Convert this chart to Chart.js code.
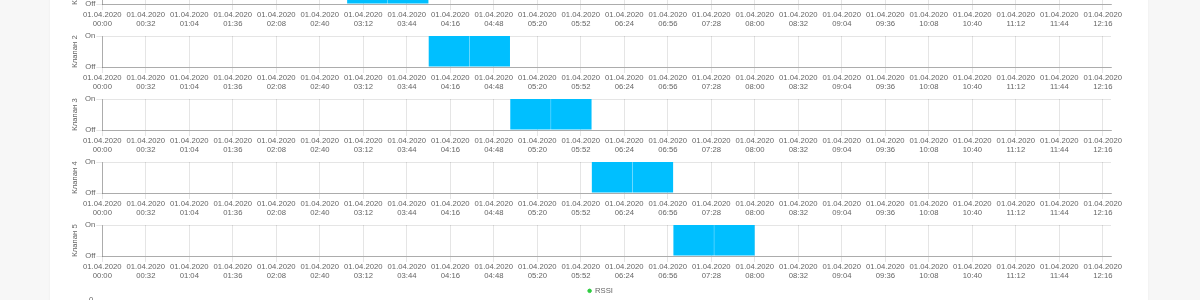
<!DOCTYPE html>
<html>
<head>
<meta charset="utf-8">
<script src="https://cdn.jsdelivr.net/npm/chart.js@4.4.0/dist/chart.umd.min.js"></script>
<style>
  html, body { margin: 0; padding: 0; }
  body {
    width: 1200px;
    height: 300px;
    overflow: hidden;
    background: #f7f7f7;
    position: relative;
  }
  .card {
    position: absolute;
    left: 50px;
    top: -33px;
    width: 1098px;
    height: 500px;
    background: #fff;
    box-shadow: 0 0 2px rgba(0, 0, 0, 0.06);
  }
  .chart-box {
    position: relative;
    margin-left: 16px;
    width: 1074px;
    height: 63px;
  }
  .chart-box.rssi {
    height: 160px;
  }
</style>
</head>
<body>
<div class="card" id="card"></div>

<script>
// Data
const dateLabel = "01.04.2020";

const tickTimes = [
  "00:00", "00:32", "01:04", "01:36", "02:08", "02:40", "03:12", "03:44",
  "04:16", "04:48", "05:20", "05:52", "06:24", "06:56", "07:28", "08:00",
  "08:32", "09:04", "09:36", "10:08", "10:40", "11:12", "11:44", "12:16",
];

// half-hour slots (start time of each slot)
const slotStarts = [
  "00:00", "00:30", "01:00", "01:30", "02:00", "02:30", "03:00", "03:30",
  "04:00", "04:30", "05:00", "05:30", "06:00", "06:30", "07:00", "07:30",
  "08:00", "08:30", "09:00", "09:30", "10:00", "10:30", "11:00", "11:30",
  "12:00",
];

const valveNames = ["Клапан 1", "Клапан 2", "Клапан 3", "Клапан 4", "Клапан 5"];

// 1 = On, 0 = Off
const valve1 = [0,0,0,0,0,0,1,1,0,0,0,0,0,0,0,0,0,0,0,0,0,0,0,0,0];
const valve2 = [0,0,0,0,0,0,0,0,1,1,0,0,0,0,0,0,0,0,0,0,0,0,0,0,0];
const valve3 = [0,0,0,0,0,0,0,0,0,0,1,1,0,0,0,0,0,0,0,0,0,0,0,0,0];
const valve4 = [0,0,0,0,0,0,0,0,0,0,0,0,1,1,0,0,0,0,0,0,0,0,0,0,0];
const valve5 = [0,0,0,0,0,0,0,0,0,0,0,0,0,0,1,1,0,0,0,0,0,0,0,0,0];
const valveStates = [valve1, valve2, valve3, valve4, valve5];

const rssiValues = [];

const slotLength = 30; // minutes
const axisEnd = 742;   // minutes, right edge of the time axis

// Helpers
function toMinutes(hhmm) {
  const parts = hhmm.split(":");
  return parseInt(parts[0], 10) * 60 + parseInt(parts[1], 10);
}

const tickMinutes = tickTimes.map(toMinutes);
const textColor = "#666";
const fontFamily = "'Helvetica Neue', Helvetica, Arial, 'Liberation Sans', sans-serif";
const fontSize = 7.7;

Chart.defaults.font.family = fontFamily;
Chart.defaults.font.size = fontSize;
Chart.defaults.color = textColor;
Chart.defaults.animation = false;

const card = document.getElementById("card");

function makeBox(cls) {
  const box = document.createElement("div");
  box.className = "chart-box" + (cls ? " " + cls : "");
  const canvas = document.createElement("canvas");
  box.appendChild(canvas);
  card.appendChild(box);
  return canvas;
}

// Valve charts
valveNames.forEach(function (name, i) {
  const canvas = makeBox();
  const points = slotStarts.map(function (s, j) {
    return { x: toMinutes(s) + slotLength / 2, y: valveStates[i][j] };
  });

  new Chart(canvas, {
    type: "bar",
    data: {
      datasets: [
        {
          label: name,
          data: points,
          backgroundColor: "#00bfff",
          borderWidth: 0,
          barPercentage: 0.993,
          categoryPercentage: 1,
        },
      ],
    },
    options: {
      responsive: true,
      maintainAspectRatio: false,
      layout: { padding: { top: 6, right: 29, bottom: 0, left: 0 } },
      plugins: {
        legend: { display: false },
        tooltip: { enabled: false },
      },
      scales: {
        x: {
          type: "linear",
          min: 0,
          max: axisEnd,
          offset: false,
          grid: {
            offset: false,
            color: "rgba(0,0,0,0.1)",
            tickLength: 6,
          },
          border: { color: "rgba(0,0,0,0.25)" },
          afterBuildTicks: function (axis) {
            axis.ticks = tickMinutes.map((v) => ({ value: v }));
          },
          afterFit: function (axis) {
            axis.height = 26;
          },
          ticks: {
            padding: 0,
            maxRotation: 0,
            autoSkip: false,
            callback: function (value) {
              const idx = tickMinutes.indexOf(value);
              return [dateLabel, idx >= 0 ? tickTimes[idx] : ""];
            },
          },
        },
        y: {
          min: 0,
          max: 1,
          grid: {
            color: "rgba(0,0,0,0.1)",
            tickLength: 6,
          },
          border: { color: "rgba(0,0,0,0.25)" },
          afterFit: function (axis) {
            axis.width = 36.3;
          },
          ticks: {
            stepSize: 1,
            padding: 1,
            callback: function (value) {
              if (value === 1) return "On";
              if (value === 0) return "Off";
              return "";
            },
          },
          title: {
            display: true,
            text: name,
            padding: { top: 4, bottom: 4 },
          },
        },
      },
    },
  });
});

// RSSI chart (only its top edge is in view)
const rssiCanvas = makeBox("rssi");
new Chart(rssiCanvas, {
  type: "line",
  data: {
    datasets: [
      {
        label: "RSSI",
        data: rssiValues,
        borderColor: "#2ecc40",
        backgroundColor: "#2ecc40",
        pointStyle: "circle",
      },
    ],
  },
  options: {
    responsive: true,
    maintainAspectRatio: false,
    layout: { padding: { top: 4, right: 5, bottom: 0, left: 0 } },
    plugins: {
      legend: {
        display: true,
        position: "top",
        maxHeight: 14,
        labels: {
          usePointStyle: true,
          boxWidth: 3,
          boxHeight: 2.5,
          padding: 1,
        },
      },
      tooltip: { enabled: false },
    },
    scales: {
      x: {
        type: "linear",
        min: 0,
        max: axisEnd,
        grid: { color: "rgba(0,0,0,0.1)" },
        afterBuildTicks: function (axis) {
          axis.ticks = tickMinutes.map((v) => ({ value: v }));
        },
        ticks: { display: false },
      },
      y: {
        min: -100,
        max: 0,
        grid: { display: false },
        border: { display: false },
        afterFit: function (axis) {
          axis.width = 36.3;
        },
        ticks: { padding: 1 },
      },
    },
  },
});
</script>
</body>
</html>
